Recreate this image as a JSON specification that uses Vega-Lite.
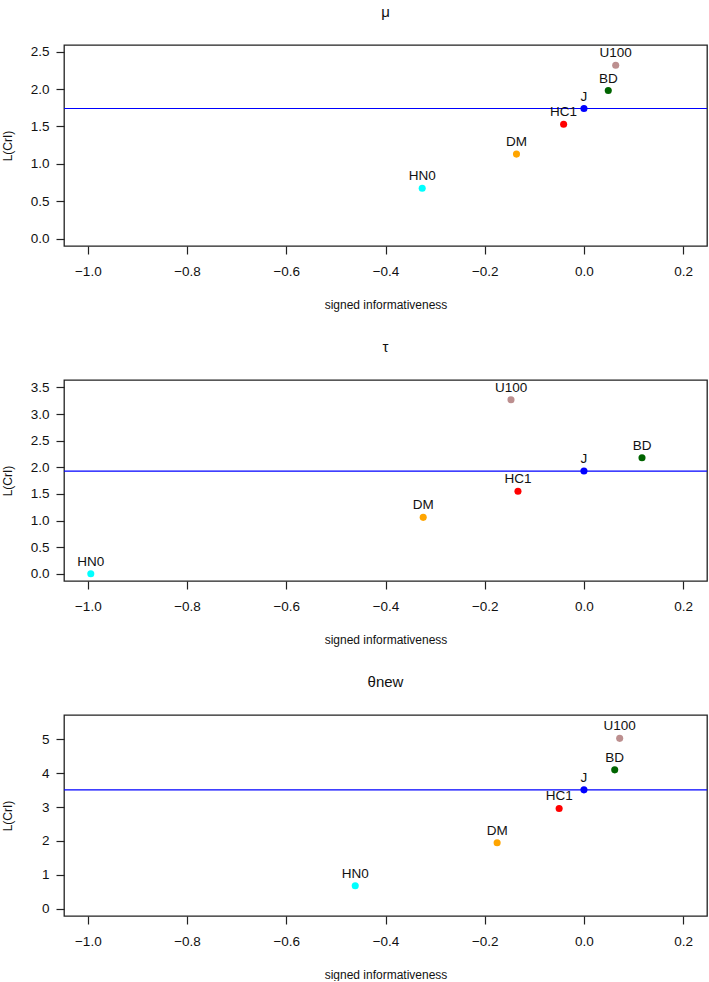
{
  "$schema": "https://vega.github.io/schema/vega-lite/v6.json",
  "padding": {"left": 0, "top": 4, "right": 2, "bottom": 0},
  "spacing": 134,
  "bounds": "flush",
  "datasets": {
    "pts": [
      {"panel": "mu", "model": "HN0", "x": -0.326, "y": 0.674},
      {"panel": "mu", "model": "DM", "x": -0.136, "y": 1.13},
      {"panel": "mu", "model": "HC1", "x": -0.041, "y": 1.53},
      {"panel": "mu", "model": "J", "x": 0.0, "y": 1.74},
      {"panel": "mu", "model": "BD", "x": 0.049, "y": 1.98},
      {"panel": "mu", "model": "U100", "x": 0.064, "y": 2.32},
      {"panel": "tau", "model": "HN0", "x": -0.994, "y": 0.0},
      {"panel": "tau", "model": "DM", "x": -0.324, "y": 1.06},
      {"panel": "tau", "model": "HC1", "x": -0.133, "y": 1.55},
      {"panel": "tau", "model": "J", "x": 0.0, "y": 1.93},
      {"panel": "tau", "model": "BD", "x": 0.117, "y": 2.18},
      {"panel": "tau", "model": "U100", "x": -0.147, "y": 3.27},
      {"panel": "theta", "model": "HN0", "x": -0.461, "y": 0.68},
      {"panel": "theta", "model": "DM", "x": -0.175, "y": 1.95},
      {"panel": "theta", "model": "HC1", "x": -0.05, "y": 2.96},
      {"panel": "theta", "model": "J", "x": 0.0, "y": 3.51},
      {"panel": "theta", "model": "BD", "x": 0.062, "y": 4.1},
      {"panel": "theta", "model": "U100", "x": 0.072, "y": 5.03}
    ]
  },
  "config": {
    "font": "Liberation Sans",
    "view": {"stroke": "#222", "strokeWidth": 1.3},
    "axis": {
      "grid": false,
      "domain": false,
      "tickColor": "#222",
      "tickSize": 8,
      "tickWidth": 1.2,
      "labelFont": "Liberation Sans",
      "labelFontSize": 13.5,
      "labelColor": "#111",
      "titleFont": "Liberation Sans",
      "titleFontSize": 12,
      "titleFontWeight": "normal",
      "titleColor": "#111"
    },
    "axisX": {"labelPadding": 10, "titleY": 58, "titleBaseline": "middle"},
    "axisY": {"labelPadding": 7, "titleX": -57, "titleY": 100.5, "titleBaseline": "middle", "titleAngle": -90, "titleAlign": "center"},
    "title": {"fontSize": 15, "fontWeight": "normal", "frame": "group", "baseline": "middle", "offset": 25, "color": "#111"}
  },
  "vconcat": [
    {
      "width": 643,
      "height": 201,
      "title": "μ",
      "data": {"name": "pts"},
      "transform": [{"filter": "datum.panel === 'mu'"}],
      "encoding": {
        "x": {"field": "x", "type": "quantitative", "scale": {"domain": [-1.048, 0.248], "nice": false, "zero": false},
              "axis": {"title": "signed informativeness", "values": [-1, -0.8, -0.6, -0.4, -0.2, 0, 0.2], "format": ".1f"}},
        "y": {"field": "y", "type": "quantitative", "scale": {"domain": [-0.1, 2.59], "nice": false, "zero": false},
              "axis": {"title": "L(CrI)", "values": [0, 0.5, 1, 1.5, 2, 2.5], "format": ".1f"}}
      },
      "layer": [
        {"transform": [{"filter": "datum.model === 'J'"}], "mark": {"type": "rule", "color": "#0000FF", "strokeWidth": 1.2}, "encoding": {"x": null}},
        {"mark": {"type": "circle", "size": 50, "opacity": 1},
         "encoding": {"color": {"field": "model", "type": "nominal", "legend": null,
           "scale": {"domain": ["HN0", "DM", "HC1", "J", "BD", "U100"], "range": ["#00FFFF", "#FFA500", "#FF0000", "#0000FF", "#006400", "#BC8F8F"]}}}},
        {"mark": {"type": "text", "dy": -12, "fontSize": 13.5, "color": "#111", "font": "Liberation Sans"}, "encoding": {"text": {"field": "model"}}}
      ]
    },
    {
      "width": 643,
      "height": 201,
      "title": "τ",
      "data": {"name": "pts"},
      "transform": [{"filter": "datum.panel === 'tau'"}],
      "encoding": {
        "x": {"field": "x", "type": "quantitative", "scale": {"domain": [-1.048, 0.248], "nice": false, "zero": false},
              "axis": {"title": "signed informativeness", "values": [-1, -0.8, -0.6, -0.4, -0.2, 0, 0.2], "format": ".1f"}},
        "y": {"field": "y", "type": "quantitative", "scale": {"domain": [-0.135, 3.64], "nice": false, "zero": false},
              "axis": {"title": "L(CrI)", "values": [0, 0.5, 1, 1.5, 2, 2.5, 3, 3.5], "format": ".1f"}}
      },
      "layer": [
        {"transform": [{"filter": "datum.model === 'J'"}], "mark": {"type": "rule", "color": "#0000FF", "strokeWidth": 1.2}, "encoding": {"x": null}},
        {"mark": {"type": "circle", "size": 50, "opacity": 1},
         "encoding": {"color": {"field": "model", "type": "nominal", "legend": null,
           "scale": {"domain": ["HN0", "DM", "HC1", "J", "BD", "U100"], "range": ["#00FFFF", "#FFA500", "#FF0000", "#0000FF", "#006400", "#BC8F8F"]}}}},
        {"mark": {"type": "text", "dy": -12, "fontSize": 13.5, "color": "#111", "font": "Liberation Sans"}, "encoding": {"text": {"field": "model"}}}
      ]
    },
    {
      "width": 643,
      "height": 201,
      "title": "θnew",
      "data": {"name": "pts"},
      "transform": [{"filter": "datum.panel === 'theta'"}],
      "encoding": {
        "x": {"field": "x", "type": "quantitative", "scale": {"domain": [-1.048, 0.248], "nice": false, "zero": false},
              "axis": {"title": "signed informativeness", "values": [-1, -0.8, -0.6, -0.4, -0.2, 0, 0.2], "format": ".1f"}},
        "y": {"field": "y", "type": "quantitative", "scale": {"domain": [-0.215, 5.72], "nice": false, "zero": false},
              "axis": {"title": "L(CrI)", "values": [0, 1, 2, 3, 4, 5], "format": "d"}}
      },
      "layer": [
        {"transform": [{"filter": "datum.model === 'J'"}], "mark": {"type": "rule", "color": "#0000FF", "strokeWidth": 1.2}, "encoding": {"x": null}},
        {"mark": {"type": "circle", "size": 50, "opacity": 1},
         "encoding": {"color": {"field": "model", "type": "nominal", "legend": null,
           "scale": {"domain": ["HN0", "DM", "HC1", "J", "BD", "U100"], "range": ["#00FFFF", "#FFA500", "#FF0000", "#0000FF", "#006400", "#BC8F8F"]}}}},
        {"mark": {"type": "text", "dy": -12, "fontSize": 13.5, "color": "#111", "font": "Liberation Sans"}, "encoding": {"text": {"field": "model"}}}
      ]
    }
  ]
}
